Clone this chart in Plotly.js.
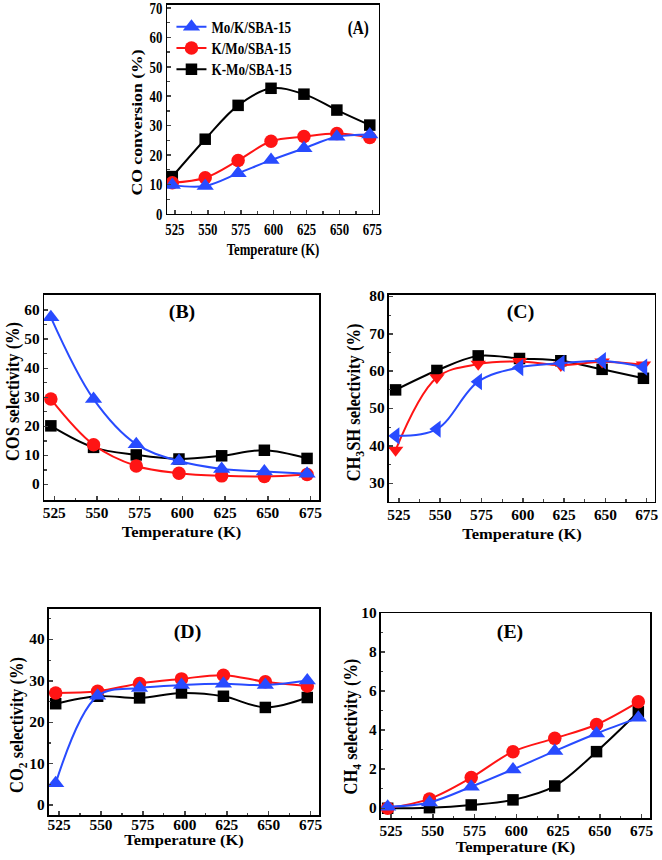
<!DOCTYPE html>
<html><head><meta charset="utf-8">
<script src="https://cdn.plot.ly/plotly-3.0.1.min.js"></script>
<style>html,body{margin:0;padding:0;background:#fff}#chart{width:662px;height:860px}</style>
</head><body><div id="chart"></div>
<script>
const temps = [523, 548, 573, 598, 623, 648, 673];
const tickTemps = [525, 550, 575, 600, 625, 650, 675];
const seriesNames = ['Mo/K/SBA-15', 'K/Mo/SBA-15', 'K-Mo/SBA-15'];

// (A) CO conversion
const coConvMoK = [9.8, 9.5, 13.8, 18.3, 22.3, 26.2, 27.0];
const coConvKMo = [10.6, 12.3, 18.2, 24.7, 26.3, 27.3, 26.0];
const coConvKdMo = [12.7, 25.4, 36.9, 42.7, 40.7, 35.3, 30.2];
// (B) COS selectivity
const cosMoK = [57.5, 29.4, 13.9, 8.1, 5.4, 4.5, 3.7];
const cosKMo = [29.4, 13.7, 6.4, 3.9, 3.0, 2.8, 3.5];
const cosKdMo = [20.2, 12.8, 10.2, 8.8, 9.9, 11.8, 9.0];
// (C) CH3SH selectivity
const ch3shMoK = [42.7, 44.5, 57.2, 61.0, 62.1, 62.8, 61.1];
const ch3shKMo = [38.9, 58.3, 61.9, 62.6, 61.6, 62.5, 61.7];
const ch3shKdMo = [55.0, 60.2, 64.1, 63.4, 62.8, 60.5, 58.1];
// (D) CO2 selectivity
const co2MoK = [5.3, 26.4, 28.3, 29.0, 29.3, 29.0, 30.1];
const co2KMo = [27.1, 27.5, 29.4, 30.5, 31.4, 29.8, 28.8];
const co2KdMo = [24.5, 26.3, 25.9, 27.1, 26.3, 23.6, 26.0];
// (E) CH4 selectivity
const ch4MoK = [0.08, 0.3, 1.1, 1.99, 2.93, 3.83, 4.63];
const ch4KMo = [0.0, 0.48, 1.57, 2.9, 3.58, 4.29, 5.45];
const ch4KdMo = [0.0, 0.03, 0.17, 0.43, 1.14, 2.9, 4.94];

const BLUE = 'rgb(40,75,255)', RED = 'rgb(255,20,20)', BLACK = '#000';
const FAM = 'Liberation Serif, Times New Roman, serif';
const f = (size) => ({family: FAM, size: size, color: '#000', weight: 'bold'});

function trio(ax, blueY, redY, blackY, blueSym, redSym, legend) {
  const sfx = ax === 1 ? '' : String(ax);
  const mk = (y, color, sym, name, size) => ({
    x: temps, y: y, name: name, type: 'scatter', mode: 'lines+markers',
    xaxis: 'x' + sfx, yaxis: 'y' + sfx, showlegend: legend,
    line: {color: color, width: 2, shape: 'spline', smoothing: 1},
    marker: {color: color, symbol: sym, size: size}
  });
  return [
    mk(blackY, BLACK, 'square', seriesNames[2], 11.5),
    mk(redY, RED, redSym, seriesNames[1], 13.5),
    mk(blueY, BLUE, blueSym, seriesNames[0], 15)
  ];
}

const data = [].concat(
  trio(1, coConvMoK, coConvKMo, coConvKdMo, 'triangle-up', 'circle', true),
  trio(2, cosMoK, cosKMo, cosKdMo, 'triangle-up', 'circle', false),
  trio(3, ch3shMoK, ch3shKMo, ch3shKdMo, 'triangle-left', 'triangle-down', false),
  trio(4, co2MoK, co2KMo, co2KdMo, 'triangle-up', 'circle', false),
  trio(5, ch4MoK, ch4KMo, ch4KdMo, 'triangle-up', 'circle', false)
);

function xa(dom, anchor, tickSize, titleSize) {
  return {domain: dom, anchor: anchor, range: [519, 680], tickvals: tickTemps,
    ticks: 'inside', ticklen: 4, tickwidth: 1.5, showline: true, linewidth: 1.5, linecolor: '#000', mirror: true,
    showgrid: false, zeroline: false, tickfont: f(tickSize), ticklabeloverflow: 'allow',
    minor: {ticks: 'inside', ticklen: 2.5, dtick: 12.5, tick0: 525, tickwidth: 1.2, showgrid: false},
    title: {text: 'Temperature (K)', font: f(titleSize), standoff: 3}};
}
function ya(dom, anchor, range, dtick, mdt, title, tickSize, titleSize) {
  return {domain: dom, anchor: anchor, range: range, dtick: dtick, tick0: 0,
    ticks: 'inside', ticklen: 4, tickwidth: 1.5, showline: true, linewidth: 1.5, linecolor: '#000', mirror: true,
    showgrid: false, zeroline: false, tickfont: f(tickSize), ticklabeloverflow: 'allow',
    minor: {ticks: 'inside', ticklen: 2.5, dtick: mdt, tick0: 0, tickwidth: 1.2, showgrid: false},
    title: {text: title, font: f(titleSize), standoff: 4}};
}

const layout = {
  width: 662, height: 860, margin: {l: 0, r: 0, t: 0, b: 0},
  paper_bgcolor: '#fff', plot_bgcolor: '#fff', font: f(15),
  xaxis: xa([0.2523, 0.5725], 'y', 16, 16),
  yaxis: ya([0.7512, 0.9942], 'x', [0, 71], 10, 5, 'CO conversion (%)', 16, 17),
  xaxis2: xa([0.0665, 0.4819], 'y2', 14, 15),
  yaxis2: ya([0.4186, 0.6570], 'x2', [-5.3, 65.2], 10, 5, 'COS selectivity (%)', 14, 16.5),
  xaxis3: xa([0.5876, 0.9894], 'y3', 14, 15),
  yaxis3: ya([0.4163, 0.6570], 'x3', [25, 80.4], 10, 5, 'CH<sub>3</sub>SH selectivity (%)', 14, 16.5),
  xaxis4: xa([0.0740, 0.4819], 'y4', 14, 15),
  yaxis4: ya([0.0523, 0.2919], 'x4', [-2.4, 47.4], 10, 5, 'CO<sub>2</sub> selectivity (%)', 14, 16.5),
  xaxis5: xa([0.5755, 0.9819], 'y5', 14, 15),
  yaxis5: ya([0.0488, 0.2872], 'x5', [-0.5, 10], 2, 1, 'CH<sub>4</sub> selectivity (%)', 14, 16.5),
  legend: {x: 0.259, y: 0.987, xanchor: 'left', yanchor: 'top', traceorder: 'reversed',
    bgcolor: 'rgba(0,0,0,0)', font: f(14), itemwidth: 30, tracegroupgap: 0},
  annotations: [
    {text: '(A)', x: 358 / 662, y: 1 - 28 / 860, size: 19},
    {text: '(B)', x: 182 / 662, y: 1 - 313 / 860, size: 18},
    {text: '(C)', x: 520 / 662, y: 1 - 313 / 860, size: 18},
    {text: '(D)', x: 187 / 662, y: 1 - 632 / 860, size: 18},
    {text: '(E)', x: 510 / 662, y: 1 - 632 / 860, size: 18}
  ].map(a => ({text: a.text, x: a.x, y: a.y, xref: 'paper', yref: 'paper', showarrow: false,
    xanchor: 'center', yanchor: 'middle', font: f(a.size)}))
};

// Axis-title and tick-label nudges (screen px) to sit where the reference puts them.
const textShift = {
  xtitle: [0, 3], x2title: [0, 3], x3title: [0, 3], x4title: [0, -4], x5title: [0, 0],
  ytitle: [6, 13], y2title: [2, -6], y3title: [-2, 4], y4title: [1, 13], y5title: [3, 11],
  x4tick: [0, -3]
};

// The reference's lettering is narrower than Times in panel (A) and wider in (B)-(E):
// scale each text in screen space around its anchor point.
function reshapeText() {
  document.querySelectorAll('#chart svg text').forEach(el => {
    const r = el.getBoundingClientRect();
    if (!r.width || !r.height) return;
    const cy = r.top + r.height / 2;
    const inA = cy < 262;
    const cls = (el.getAttribute('class') || '') + ' ' + (el.parentNode.getAttribute('class') || '');
    const clsList = cls.split(/\s+/);
    let sx = inA ? 0.8 : 1.1, sy = inA ? 1.04 : 1.0;
    if (clsList.indexOf('legendtext') >= 0) { sx = 0.94; sy = 1.15; }
    let dx = 0, dy = 0;
    Object.keys(textShift).forEach(k => {
      if (clsList.indexOf(k) >= 0) { dx = textShift[k][0]; dy = textShift[k][1]; }
    });
    const tr = el.getAttribute('transform') || '';
    const rotated = /rotate\(\s*-?90/.test(tr);
    const anchor = el.getAttribute('text-anchor') || 'start';
    let ax = r.left + r.width / 2;
    if (!rotated) {
      if (anchor === 'end') ax = r.right;
      else if (anchor === 'start') ax = r.left;
    }
    const svg = el.ownerSVGElement;
    const pt = svg.createSVGPoint();
    pt.x = ax; pt.y = cy;
    const p = pt.matrixTransform(el.parentNode.getScreenCTM().inverse());
    el.setAttribute('transform',
      `translate(${p.x + dx},${p.y + dy}) scale(${sx},${sy}) translate(${-p.x},${-p.y}) ${tr}`);
  });
}

Plotly.newPlot('chart', data, layout, {staticPlot: true}).then(reshapeText);
</script></body></html>
